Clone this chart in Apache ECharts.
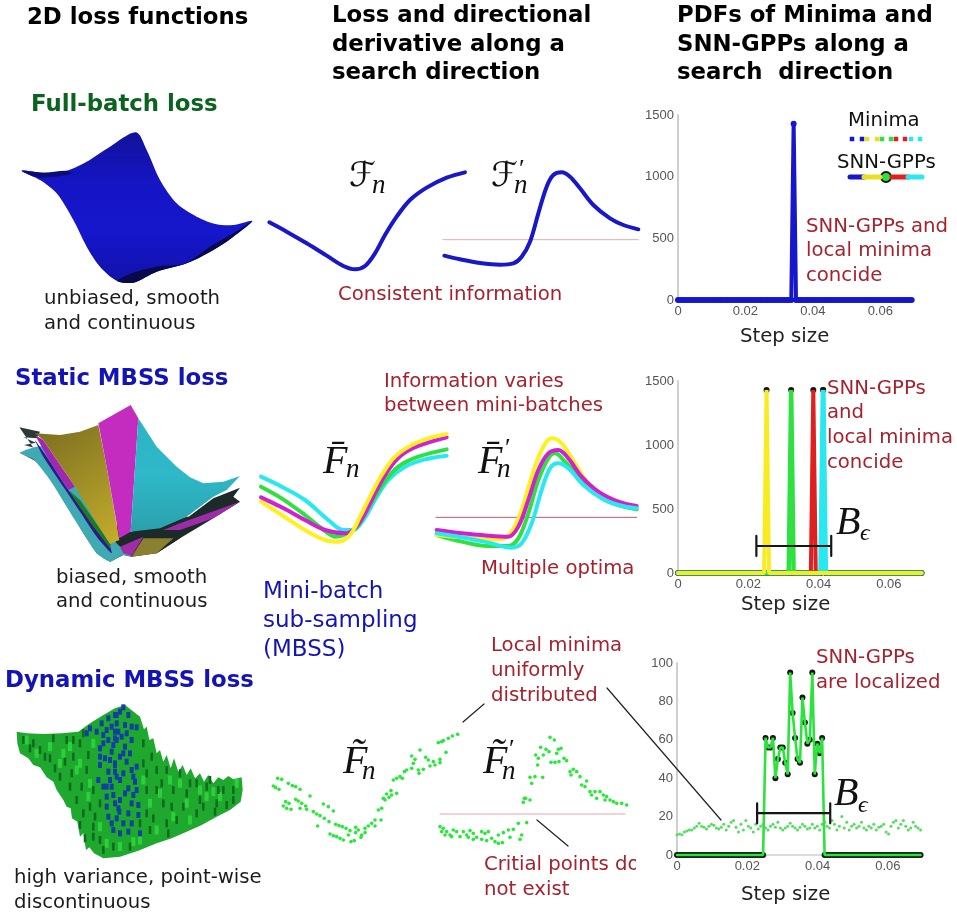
<!DOCTYPE html>
<html><head><meta charset="utf-8">
<style>html,body{margin:0;padding:0;background:#fff}#c{width:957px;height:912px;filter:blur(0.35px)}</style>
<script src="https://cdn.jsdelivr.net/npm/echarts@6/dist/echarts.min.js"></script>
</head><body><div id="c"></div>
<script>
// ---------- DATA ----------
const stepTicks=[0,0.02,0.04,0.06];
const steps=[0,0.0007,0.0014,0.0021,0.0028,0.0035,0.0042,0.0049,0.0056,0.0063,
0.007,0.0077,0.0084,0.0091,0.0098,0.0105,0.0112,0.0119,0.0126,0.0133,
0.014,0.0147,0.0154,0.0161,0.0168,0.0175,0.0182,0.0189,0.0196,0.0203,
0.021,0.0217,0.0224,0.0231,0.0238,0.0245,0.0252,0.0259,0.0266,0.0273,
0.028,0.0287,0.0294,0.0301,0.0308,0.0315,0.0322,0.0329,0.0336,0.0343,
0.035,0.0357,0.0364,0.0371,0.0378,0.0385,0.0392,0.0399,0.0406,0.0413,
0.042,0.0427,0.0434,0.0441,0.0448,0.0455,0.0462,0.0469,0.0476,0.0483,
0.049,0.0497,0.0504,0.0511,0.0518,0.0525,0.0532,0.0539,0.0546,0.0553,
0.056,0.0567,0.0574,0.0581,0.0588,0.0595,0.0602,0.0609,0.0616,0.0623,
0.063,0.0637,0.0644,0.0651,0.0658,0.0665,0.0672,0.0679,0.0686,0.0693];
const pdfFullBatch=[0,0,0,0,0,0,0,0,0,0,0,0,0,0,0,0,0,0,0,0,0,0,0,0,0,0,0,0,0,0,0,0,0,0,0,0,0,0,0,0,0,0,0,0,0,0,0,0,0,1430,0,0,0,0,0,0,0,0,0,0,0,0,0,0,0,0,0,0,0,0,0,0,0,0,0,0,0,0,0,0,0,0,0,0,0,0,0,0,0,0,0,0,0,0,0,0,0,0,0,0];
const pdfYellow=[0,0,0,0,0,0,0,0,0,0,0,0,0,0,0,0,0,0,0,0,0,0,0,0,0,0,0,0,0,0,0,0,0,0,0,0,1430,0,0,0,0,0,0,0,0,0,0,0,0,0,0,0,0,0,0,0,0,0,0,0,0,0,0,0,0,0,0,0,0,0,0,0,0,0,0,0,0,0,0,0,0,0,0,0,0,0,0,0,0,0,0,0,0,0,0,0,0,0,0,0];
const pdfGreen=[0,0,0,0,0,0,0,0,0,0,0,0,0,0,0,0,0,0,0,0,0,0,0,0,0,0,0,0,0,0,0,0,0,0,0,0,0,0,0,0,0,0,0,0,0,0,1430,0,0,0,0,0,0,0,0,0,0,0,0,0,0,0,0,0,0,0,0,0,0,0,0,0,0,0,0,0,0,0,0,0,0,0,0,0,0,0,0,0,0,0,0,0,0,0,0,0,0,0,0,0];
const pdfRed=[0,0,0,0,0,0,0,0,0,0,0,0,0,0,0,0,0,0,0,0,0,0,0,0,0,0,0,0,0,0,0,0,0,0,0,0,0,0,0,0,0,0,0,0,0,0,0,0,0,0,0,0,0,0,0,1430,0,0,0,0,0,0,0,0,0,0,0,0,0,0,0,0,0,0,0,0,0,0,0,0,0,0,0,0,0,0,0,0,0,0,0,0,0,0,0,0,0,0,0,0];
const pdfCyan=[0,0,0,0,0,0,0,0,0,0,0,0,0,0,0,0,0,0,0,0,0,0,0,0,0,0,0,0,0,0,0,0,0,0,0,0,0,0,0,0,0,0,0,0,0,0,0,0,0,0,0,0,0,0,0,0,0,0,0,1430,0,0,0,0,0,0,0,0,0,0,0,0,0,0,0,0,0,0,0,0,0,0,0,0,0,0,0,0,0,0,0,0,0,0,0,0,0,0,0,0];
const pdfDynamic=[0,0,0,0,0,0,0,0,0,0,0,0,0,0,0,0,0,0,0,0,0,0,0,0,0,0,0,0,0,0,0,0,0,0,0,0,61,56,56,61,40,50,56,56,48,42,95,74,61,50,48,82,69,58,60,95,42,58,53,61,0,0,0,0,0,0,0,0,0,0,0,0,0,0,0,0,0,0,0,0,0,0,0,0,0,0,0,0,0,0,0,0,0,0,0,0,0,0,0,0];
const minimaDensity=[10.5,11,10.5,12,12.5,13,13,14,15,16.5,15,14.5,13.5,15,16,15.5,14,13.5,14.5,16,13,15,17,18,14.5,12,16,13,18,15,14,12,16,13.5,15,16,14,13,15,16,14.5,17,14,13,14,15,16.5,15,14,13,14.5,16,15,13.5,14,16,14,15,13,16,17,15,14,18,16,13,15,20,14,17,13,15,16,14,15,17,14,13,15,14,16,13,14.5,15,16,12,11,15,17,18,14,16,18,15,13,14,17,15,14,13];
const bandStatic=[[0.0223,133],[0.0223,290],null,[0.0223,211],[0.0436,211],null,[0.0436,133],[0.0436,290]];
const bandDynamic=[[0.0228,16.5],[0.0228,26.9],null,[0.0228,21.8],[0.0436,21.8],null,[0.0436,16.5],[0.0436,26.9]];

// loss curves, in arbitrary panel units
const fnFull=[[28,247],[80,275],[140,310],[200,347],[250,378],[285,388],[315,378],[345,340],[375,285],[410,230],[450,180],[500,143],[560,113],[615,97]];
const dfnFull=[[553,347],[600,358],[660,369],[720,374],[760,370],[785,350],[810,305],[835,220],[860,140],[880,105],[905,97],[930,110],[960,145],[1000,195],[1050,235],[1090,255],[1135,268]];
const zeroFull=[[548,299],[1135,299]];
const fnYellow=[[18,245],[80,285],[150,330],[210,360],[250,365],[285,345],[315,290],[350,220],[380,165],[420,110],[470,75],[520,55],[575,42]];
const fnMagenta=[[18,232],[80,262],[150,300],[210,330],[270,340],[300,325],[330,280],[365,210],[400,150],[440,105],[490,78],[575,52]];
const fnGreen=[[18,200],[80,235],[150,285],[200,325],[240,350],[280,340],[310,315],[345,255],[385,190],[430,140],[490,110],[575,88]];
const fnCyan=[[18,170],[80,200],[150,240],[220,300],[265,330],[295,330],[325,300],[360,240],[400,180],[450,140],[510,118],[575,107]];
const dfnYellow=[[545,345],[620,352],[700,358],[740,357],[770,335],[800,270],[830,170],[860,90],[890,55],[920,70],[960,130],[1000,190],[1060,235],[1145,262]];
const dfnGreen=[[545,345],[620,365],[700,378],[760,378],[790,355],[820,280],[850,180],[880,115],[900,100],[930,125],[970,170],[1000,205],[1060,245],[1145,268]];
const dfnCyan=[[545,340],[620,352],[700,368],[770,383],[800,370],[830,310],[860,210],[885,145],[910,130],[940,145],[985,195],[1040,235],[1090,255],[1145,265]];
const dfnMagenta=[[545,330],[620,340],[700,347],[760,350],[790,320],[820,240],[850,150],[880,100],[910,90],[940,115],[980,170],[1030,215],[1090,245],[1145,258]];
const zeroStatic=[[543,292],[1145,292]];
const fnDynamic=[[38,175],[50,178],[70,190],[82,197],[92,200],[105,208],[135,228],[25,198],[32,203],[42,208],[62,245],[72,250],[55,258],[65,265],[78,268],[92,238],[100,243],[110,250],[122,258],[105,265],[125,268],[175,252],[190,260],[205,273],[145,275],[155,282],[165,287],[178,295],[192,305],[158,318],[212,313],[222,317],[232,320],[243,325],[255,332],[195,342],[205,347],[215,350],[225,355],[235,360],[250,345],[258,365],[268,362],[272,322],[272,338],[280,330],[290,345],[288,352],[300,325],[310,318],[320,310],[330,300],[300,338],[330,318],[350,265],[348,300],[340,270],[360,240],[372,232],[380,225],[395,220],[378,212],[365,222],[355,235],[385,180],[395,175],[405,170],[418,155],[425,150],[440,145],[412,175],[445,130],[450,118],[465,90],[440,108],[460,150],[475,148],[462,160],[482,112],[490,120],[505,125],[525,118],[495,138],[510,135],[525,128],[543,97],[520,68],[535,62],[550,55],[562,48],[578,43],[530,65]];
const dfnDynamic=[[775,247],[782,235],[795,240],[778,235],[795,172],[810,170],[833,172],[800,190],[818,135],[820,115],[812,105],[827,82],[843,88],[835,105],[852,95],[855,52],[868,60],[880,88],[875,100],[888,85],[858,127],[870,127],[882,125],[897,115],[905,122],[915,155],[925,148],[935,155],[918,165],[945,170],[965,183],[950,195],[960,200],[975,215],[990,215],[1005,215],[980,225],[995,235],[1015,225],[1025,230],[1020,240],[1035,240],[1045,245],[1055,250],[1070,250],[1085,255],[525,320],[535,325],[545,335],[555,345],[565,330],[575,335],[585,350],[595,335],[605,345],[615,332],[625,340],[635,352],[650,335],[660,340],[670,335],[650,358],[665,362],[680,355],[690,365],[700,370],[712,368],[700,345],[715,338],[730,330],[745,328],[760,310],[785,308],[770,345],[765,358],[735,352],[530,335],[540,345],[560,350],[610,352],[625,358]];
const zeroDynamic=[[525,282],[1080,282]];

// surfaces, as outlines in arbitrary panel units
const sheetFull=[[65,242],[130,248],[200,242],[260,215],[330,170],[408,127],[440,180],[480,270],[530,340],[590,380],[650,403],[700,405],[757,393],[700,440],[640,480],[560,520],[470,545],[400,578],[350,572],[300,530],[260,470],[220,390],[170,310],[120,270]];
const shadeFullBottom=[[352,573],[400,548],[470,530],[555,520],[630,470],[700,430],[757,393],[700,440],[640,480],[560,520],[470,545],[400,578]];
const shadeFullTop=[[65,242],[130,248],[200,242],[215,252],[140,262],[110,262]];
const sheetBase=[[200,340],[392,425],[560,380],[600,380],[540,445],[470,490],[395,500],[370,495],[330,515],[290,490],[250,430]];
const sheetDarkLeft=[[58,112],[120,125],[110,145],[70,142],[108,158],[72,165],[108,175],[60,188],[110,215],[160,260]];
const sheetCyanLow=[[60,188],[100,208],[150,270],[200,350],[250,430],[290,490],[330,515],[370,495],[395,500],[350,460],[240,310],[130,170]];
const sheetBlueLeft=[[105,150],[150,215],[205,300],[260,375],[330,470],[335,490],[290,440],[240,365],[190,290],[130,200]];
const sheetGreenLeft=[[205,300],[240,330],[332,462],[330,475],[280,410],[235,345]];
const sheetMagentaLeft=[[105,135],[130,150],[225,290],[205,300],[150,215]];
const sheetYellow=[[105,130],[180,135],[240,125],[295,105],[320,230],[358,450],[330,462],[290,400],[225,290],[130,150]];
const sheetMagentaTop=[[295,100],[392,45],[415,85],[392,425],[358,445],[320,230]];
const sheetCyanTop=[[415,85],[470,170],[530,230],[570,262],[610,280],[670,275],[720,258],[680,300],[640,320],[560,380],[480,415],[392,425]];
const sheetDarkRight=[[392,428],[480,418],[560,385],[640,325],[720,293],[700,320],[720,335],[640,385],[540,445],[470,490],[430,445]];
const sheetYellowLow=[[395,500],[430,445],[520,445],[470,490]];
const sheetMagentaLow=[[360,470],[430,440],[395,498],[370,490]];
const sheetMagentaRight=[[490,420],[540,400],[720,335],[640,385],[540,420]];
const sheetDynamic=[[50,125],[80,130],[130,132],[185,130],[235,125],[270,100],[310,75],[345,55],[375,45],[420,80],[432,118],[440,110],[448,150],[460,145],[470,190],[480,180],[490,215],[500,195],[512,235],[522,205],[535,245],[548,225],[560,255],[572,235],[585,265],[600,250],[612,275],[625,255],[640,280],[655,262],[670,270],[685,258],[700,268],[725,262],[728,300],[722,335],[690,360],[650,380],[605,405],[560,425],[515,445],[470,460],[415,482],[360,500],[310,505],[282,490],[268,472],[258,480],[250,430],[240,440],[232,395],[216,385],[212,355],[200,350],[190,330],[170,300],[160,275],[140,262],[120,232],[100,225],[85,205],[60,190],[52,160]];
const flecksBlue=[[370,52],[345,75],[325,85],[385,75],[350,100],[305,100],[375,105],[410,112],[345,125],[325,150],[350,150],[380,130],[290,125],[375,170],[335,185],[300,175],[360,200],[345,225],[300,225],[380,215],[325,245],[400,260],[360,270],[335,290],[295,270],[385,295],[320,320],[410,300],[360,330],[415,345],[320,350],[358,365],[385,370],[335,400],[395,400],[360,430],[345,245],[355,125],[390,190],[370,250],[345,340],[385,425],[420,430],[325,380],[260,130],[270,115],[395,340],[355,355],[345,220],[350,75],[345,145],[310,135],[395,110],[315,205],[410,230],[330,270],[400,315],[340,420],[360,65],[335,110],[365,140],[320,120],[395,150],[340,165],[310,160],[370,190],[330,210],[395,240],[350,260],[310,290],[375,310],[340,315],[405,275],[350,385],[370,400],[320,290],[300,200],[415,375]];
const flecksDark=[[120,180],[150,205],[180,260],[220,200],[240,160],[260,240],[280,300],[230,330],[250,370],[280,410],[300,450],[340,470],[390,470],[450,420],[500,400],[550,350],[600,330],[650,340],[700,300],[670,300],[620,290],[570,280],[520,300],[470,240],[440,300],[455,200],[490,340],[440,370],[200,150],[100,160],[70,150],[160,145],[210,290],[270,350],[430,160],[430,220],[530,390],[590,370],[645,365],[680,345],[310,480],[280,440],[255,445],[240,405],[540,250],[590,280],[630,270],[500,240],[90,175],[135,200],[165,235],[195,215],[215,250],[245,290],[265,195],[250,130],[220,150],[470,300],[515,350],[560,310],[610,350],[655,300],[700,330],[420,400],[460,385],[505,430],[285,380],[300,340],[440,250],[485,280]];
const flecksLight=[[80,150],[110,190],[150,170],[190,190],[230,240],[270,280],[240,220],[210,170],[180,220],[300,410],[320,460],[360,470],[420,450],[470,420],[520,380],[570,390],[620,320],[660,320],[710,280],[600,300],[540,280],[480,310],[450,340],[430,270],[510,270],[560,340],[280,160],[265,320],[400,455],[640,305]];

// legend & annotation strokes, in page units
const legendMinimaBlue=[[852,139],[862,139]],legendMinimaYellow=[[867,139],[877,139]],legendMinimaGreen=[[882,139],[891,139]],legendMinimaRed=[[896,139],[905,139]],legendMinimaCyan=[[911,139],[920,139]];
const legendGppBlue=[[850,177],[864,177]],legendGppYellow=[[864,177],[880,177]],legendGppRed=[[892,177],[908,177]],legendGppCyan=[[908,177],[922,177]],legendGppGreen=[[886,177]];
const leaderA=[[607,688],[721,820]],leaderB=[[463,722],[484,704]],leaderC=[[537,820],[568,846]];

// text
const H='bold 22.8px "DejaVu Sans"',T='19.7px "DejaVu Sans"',L='23px "DejaVu Sans"',R='#a5222e',K='#1c1c1c',B='#1414b4';
const texts=[
['2D loss functions',27,16,H,'#000'],
['Loss and directional',332,14,H,'#000'],['derivative along a',332,43,H,'#000'],['search direction',332,71,H,'#000'],
['PDFs of Minima and',677,14,H,'#000'],['SNN-GPPs along a',677,43,H,'#000'],['search  direction',677,71,H,'#000'],
['Full-batch loss',31,103,H,'#0a6420'],['Static MBSS loss',15,377,H,B],['Dynamic MBSS loss',5,679,H,B],
['unbiased, smooth',44,297,T,K],['and continuous',44,322,T,K],
['biased, smooth',56,576,T,K],['and continuous',56,600,T,K],
['high variance, point-wise',14,876,T,K],['discontinuous',14,901,T,K],
['Consistent information',338,293,T,R],
['Information varies',384,380,T,R],['between mini-batches',384,404,T,R],['Multiple optima',481,567,T,R],
['Mini-batch',263,590,L,B],['sub-sampling',263,619,L,B],['(MBSS)',263,648,L,B],
['Local minima',491,644,T,R],['uniformly',491,669,T,R],['distributed',491,694,T,R],
['Critial points do',484,863,T,R],['not exist',484,888,T,R],
['Minima',848,119,T,'#111'],['SNN-GPPs',837,161,T,'#111'],
['SNN-GPPs and',806,225,T,R],['local minima',806,249,T,R],['concide',806,274,T,R],
['SNN-GPPs',827,387,T,R],['and',827,411,T,R],['local minima',827,436,T,R],['concide',827,461,T,R],
['SNN-GPPs',816,656,T,R],['are localized',816,681,T,R],
['Step size',740,335,T,'#222'],['Step size',741,603,T,'#222'],['Step size',741,893,T,'#222'],
];
const M='italic 40px "Liberation Serif"',S='italic 27px "Liberation Serif"',D='26px "Liberation Serif"',C='34px "DejaVu Sans"';
const mathTexts=[
['ℱ',349,177,C],['n',372,186,S],
['ℱ',491,177,C],['n',514,186,S],['′',519,170,D],
['F̄',323,462,M],['n',346,470,S],
['F̄',478,462,M],['n',497,470,S],['′',505,449,D],
['F̃',343,762,M],['n',362,772,S],
['F̃',483,762,M],['n',502,772,S],['′',509,750,D],
['B',836,523,M],['ϵ',860,534,'italic 24px "Liberation Serif"'],
['B',834,794,M],['ϵ',858,806,'italic 24px "Liberation Serif"'],
];

// ---------- CHART ----------
const chart=echarts.init(document.getElementById('c'),null,{renderer:'canvas'});
const grids=[
{left:678,top:115,width:236,height:185},
{left:678,top:381,width:246,height:192},
{left:677,top:663,width:246,height:192},
{left:260,top:140,width:390,height:180},
{left:255,top:420,width:385,height:170},
{left:265,top:720,width:375,height:130},
{left:0,top:90,width:270,height:260},
{left:0,top:390,width:260,height:190},
{left:0,top:690,width:270,height:170},
{left:0,top:0,width:957,height:912}];
const G={pdf1:0,pdf2:1,pdf3:2,cur1:3,cur2:4,cur3:5,sur1:6,sur2:7,sur3:8,page:9};
const units=[null,null,null,[1170,540],[1155,510],[1125,390],[810,780],[780,570],[810,510],[957,912]];
const xAxes=grids.map((g,i)=> i<3?{type:'value',gridIndex:i,min:0,max:0.07,
  axisLine:{lineStyle:{color:'#cfcfcf',width:1.5}},axisTick:{show:false},splitLine:{show:false},
  axisLabel:{customValues:stepTicks,color:'#555',fontFamily:'Liberation Sans',fontSize:13,margin:5,hideOverlap:false}}
  :{type:'value',gridIndex:i,min:0,max:units[i][0],show:false});
const yAxes=[[1500,500],[1500,500],[100,20]].map((a,i)=>({type:'value',gridIndex:i,min:0,max:a[0],interval:a[1],
  axisLine:{show:true,lineStyle:{color:'#cfcfcf',width:2}},axisTick:{show:false},splitLine:{show:false},
  axisLabel:{color:'#555',fontFamily:'Liberation Sans',fontSize:13,margin:4,formatter:v=>String(v)}}))
  .concat(grids.slice(3).map((g,i)=>({type:'value',gridIndex:i+3,min:0,max:units[i+3][1],inverse:true,show:false})));

const line=(g,data,color,width,smooth)=>({type:'line',xAxisIndex:G[g],yAxisIndex:G[g],data,smooth:smooth?0.35:false,
  showSymbol:false,symbol:'none',clip:false,silent:true,connectNulls:false,lineStyle:{color,width,cap:'round'},animation:false});
const dots=(g,data,color,size,symbol)=>({type:'scatter',xAxisIndex:G[g],yAxisIndex:G[g],data,symbol:symbol||'circle',symbolSize:size,clip:false,silent:true,itemStyle:{color,opacity:1},animation:false});
const pdf=(vals)=>steps.map((s,i)=>[s,vals[i]]);
const sheet=(g,points,fill,smooth)=>({type:'custom',xAxisIndex:G[g],yAxisIndex:G[g],clip:false,silent:true,animation:false,data:points,encode:{x:0,y:1},
  renderItem:(p,api)=>p.dataIndex!==0?null:({type:'polygon',shape:{points:points.map(q=>api.coord(q)),smooth:smooth||0},style:{fill}})});
const vgrad=(stops)=>new echarts.graphic.LinearGradient(0,0,0,1,stops.map((c,i)=>({offset:i/(stops.length-1),color:c})));
const dgrad=(a,b)=>new echarts.graphic.LinearGradient(0,0,1,1,[{offset:0,color:a},{offset:1,color:b}]);

const series=[
 // surfaces
 sheet('sur1',sheetFull,vgrad(['#12129c','#1515c4','#1616cc','#1212a8']),0.3),
 sheet('sur1',shadeFullBottom,'#08084a',0.3),
 sheet('sur1',shadeFullTop,'#0c0c78',0.3),
 sheet('sur2',sheetDarkLeft,'#2a3a3a'),
 sheet('sur2',sheetBase,'#1c2a2a'),
 sheet('sur2',sheetCyanLow,'#3fa9b4',0.2),
 sheet('sur2',sheetBlueLeft,'#2a1a8a',0.2),
 sheet('sur2',sheetGreenLeft,'#1f7a20'),
 sheet('sur2',sheetMagentaLeft,'#a028b0'),
 sheet('sur2',sheetYellow,dgrad('#7a6c20','#c4ae2c')),
 sheet('sur2',sheetMagentaTop,'#c42cc0'),
 sheet('sur2',sheetCyanTop,vgrad(['#2cb4c4','#2eb8c8','#2ca0ac'])),
 sheet('sur2',sheetDarkRight,'#1c2a2a'),
 sheet('sur2',sheetYellowLow,'#8a8030'),
 sheet('sur2',sheetMagentaLow,'#a02ca8'),
 sheet('sur2',sheetMagentaRight,'#9c2ca8'),
 sheet('sur3',sheetDynamic,'#1ea82e'),
 dots('sur3',flecksLight,'#2ecf3c',[4,9],'rect'),
 dots('sur3',flecksDark,'#0f6a1e',[2.5,8],'rect'),
 dots('sur3',flecksBlue,'#1240a0',[4,6],'rect'),
 // loss curves
 line('cur1',zeroFull,'#e2aeae',1),
 line('cur1',fnFull,'#1818c8',4,1),
 line('cur1',dfnFull,'#1818c8',4,1),
 line('cur2',zeroStatic,'#b85a68',1),
 line('cur2',fnCyan,'#2ae8f0',4,1),
 line('cur2',fnGreen,'#2ee040',4,1),
 line('cur2',fnMagenta,'#d020d0',4,1),
 line('cur2',fnYellow,'#fff020',4,1),
 line('cur2',dfnGreen,'#2ee040',4,1),
 line('cur2',dfnYellow,'#fff020',4,1),
 line('cur2',dfnMagenta,'#d020d0',4,1),
 line('cur2',dfnCyan,'#2ae8f0',4,1),
 line('cur3',zeroDynamic,'#e8a6ae',1),
 dots('cur3',fnDynamic,'#28e83a',3.6),
 dots('cur3',dfnDynamic,'#28e83a',3.6),
 // PDFs
 line('pdf1',pdf(pdfFullBatch),'#1616cc',4),
 dots('pdf1',pdf(pdfFullBatch),'#1616cc',6),
 dots('pdf2',pdf(pdfCyan),'#161616',6),
 line('pdf2',pdf(pdfCyan),'#2ae8f0',5),
 line('pdf2',pdf(pdfRed),'#e02020',4),
 line('pdf2',pdf(pdfGreen),'#2ee040',4.5),
 line('pdf2',pdf(pdfYellow),'#f8ec20',4),
 dots('pdf2',[[steps[46],1430],[steps[55],1430],[steps[59],1430],[steps[36],1430]],'#161616',6),
 line('pdf2',bandStatic,'#161616',2.2),
 dots('pdf3',pdf(minimaDensity),'#55dd60',3),
 dots('pdf3',pdf(pdfDynamic),'#101810',6),
 line('pdf3',pdf(pdfDynamic),'#2ce23c',2.6),
 line('pdf3',bandDynamic,'#161616',2.2),
 // legend strokes and leaders
 dots('page',legendMinimaBlue,'#1616cc',4.5,'rect'),dots('page',legendMinimaYellow,'#e8e020',4.5,'rect'),dots('page',legendMinimaGreen,'#2ee040',4.5,'rect'),dots('page',legendMinimaRed,'#e02020',4.5,'rect'),dots('page',legendMinimaCyan,'#2ae8f0',4.5,'rect'),
 line('page',legendGppBlue,'#1616cc',5),line('page',legendGppYellow,'#e8e020',5),line('page',legendGppRed,'#e02020',5),line('page',legendGppCyan,'#2ae8f0',5),
 Object.assign(dots('page',legendGppGreen,'#2ee040',10),{itemStyle:{color:'#2ee040',borderColor:'#111',borderWidth:2,opacity:1}}),
 line('page',leaderA,'#222',1.2),line('page',leaderB,'#222',1.2),line('page',leaderC,'#222',1.2),
];

const elements=texts.map(t=>({type:'text',silent:true,style:{text:t[0],x:t[1],y:t[2]+2,font:t[3],fill:t[4],verticalAlign:'middle',align:'left'}}))
 .concat(mathTexts.map(t=>({type:'text',silent:true,style:{text:t[0],x:t[1],y:t[2],font:t[3],fill:'#111',verticalAlign:'middle',align:'left'}})))
 .concat([{type:'rect',silent:true,shape:{x:636,y:850,width:6,height:26},style:{fill:'#fff'}}]);

chart.setOption({animation:false,backgroundColor:'#fff',grid:grids.map(g=>Object.assign({containLabel:false},g)),xAxis:xAxes,yAxis:yAxes,series,graphic:{elements}});
</script></body></html>
